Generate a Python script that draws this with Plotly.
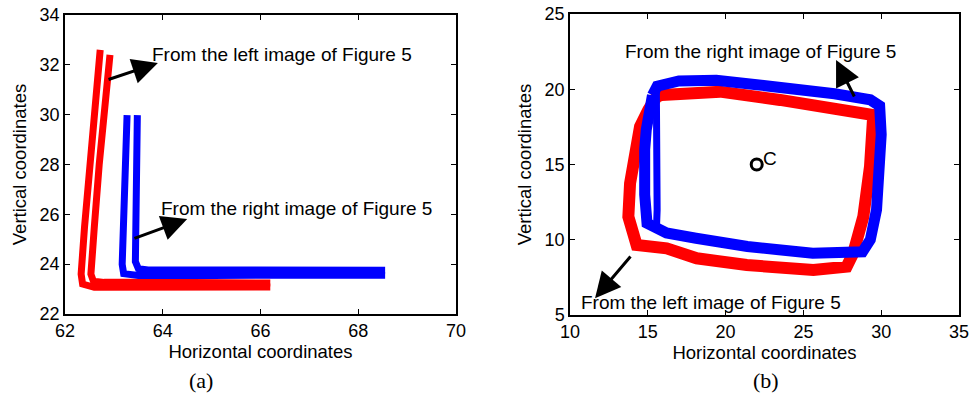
import plotly.graph_objects as go

# ---------------- Panel (a) data ----------------
red_outer_x = [62.72, 62.62, 62.50, 62.40, 62.33, 62.36, 62.60, 63.5, 64.5, 65.5, 66.20]
red_outer_y = [32.60, 30.50, 28.00, 25.50, 23.60, 23.20, 23.07, 23.07, 23.05, 23.05, 23.08]
red_inner_x = [62.92, 62.82, 62.70, 62.60, 62.53, 62.58, 62.80, 64.0, 65.0, 66.20]
red_inner_y = [32.40, 30.50, 28.00, 25.50, 23.60, 23.32, 23.27, 23.27, 23.25, 23.24]
blue_outer_x = [63.27, 63.22, 63.18, 63.17, 63.20, 63.50, 65.0, 67.0, 68.55]
blue_outer_y = [29.98, 27.50, 25.00, 24.00, 23.62, 23.55, 23.55, 23.55, 23.56]
blue_inner_x = [63.48, 63.47, 63.45, 63.44, 63.50, 63.70, 65.0, 67.0, 68.55]
blue_inner_y = [29.98, 27.50, 25.00, 24.10, 23.82, 23.77, 23.77, 23.76, 23.76]

# ---------------- Panel (b) data ----------------
red_loop_x = [15.57, 15.89, 17.07, 19.64, 23.50, 27.78, 29.49, 29.28, 28.85, 28.20, 27.78,
              25.64, 21.36, 18.14, 16.21, 14.28, 13.75, 13.86, 14.18, 14.50, 15.03, 15.57]
red_loop_y = [19.50, 19.62, 19.68, 19.84, 19.29, 18.51, 18.29, 14.86, 11.53, 9.10, 8.21,
              7.99, 8.32, 8.77, 9.43, 9.65, 11.53, 13.75, 15.96, 17.51, 18.62, 19.50]
blue_loop_x = [15.30, 15.60, 17.00, 19.40, 22.00, 24.80, 27.00, 29.30, 29.90, 30.00, 29.90,
               29.70, 29.30, 28.80, 25.60, 21.40, 18.10, 16.20, 14.95, 14.80, 14.80, 14.90, 15.30]
blue_loop_y = [19.60, 20.20, 20.55, 20.60, 20.30, 20.00, 19.70, 19.30, 18.90, 17.00, 15.30,
               12.00, 10.00, 9.20, 9.10, 9.55, 10.10, 10.45, 11.10, 13.00, 16.00, 17.30, 19.60]
blue_inner_line_x = [15.55, 15.62, 15.60, 15.55]
blue_inner_line_y = [19.90, 15.00, 12.00, 10.60]
center_x = [22]
center_y = [15]

RED = "#ff0000"
BLUE = "#0000ff"
FONT = "Liberation Sans, Arial, sans-serif"

fig = go.Figure()

def add_line(x, y, color, width, xa, ya):
    fig.add_trace(go.Scatter(x=x, y=y, mode="lines", line=dict(color=color, width=width),
                             xaxis=xa, yaxis=ya, showlegend=False, hoverinfo="skip"))

add_line(red_outer_x, red_outer_y, RED, 7, "x", "y")
add_line(red_inner_x, red_inner_y, RED, 7, "x", "y")
add_line(blue_outer_x, blue_outer_y, BLUE, 7, "x", "y")
add_line(blue_inner_x, blue_inner_y, BLUE, 7, "x", "y")

add_line(red_loop_x, red_loop_y, RED, 12, "x2", "y2")
add_line(blue_loop_x, blue_loop_y, BLUE, 11, "x2", "y2")
add_line(blue_inner_line_x, blue_inner_line_y, BLUE, 7, "x2", "y2")

fig.add_trace(go.Scatter(x=center_x, y=center_y, mode="markers",
                         marker=dict(symbol="circle-open", size=11, color="black", line=dict(width=3)),
                         xaxis="x2", yaxis="y2", showlegend=False, hoverinfo="skip"))

W, H = 971, 418

def px(v):
    return v / W

def py(v):
    return 1 - v / H

axis_common = dict(showline=True, linecolor="black", linewidth=1.5, mirror="allticks",
                   ticks="inside", ticklen=5, tickwidth=1, tickcolor="black",
                   showgrid=False, zeroline=False, automargin=False,
                   tickfont=dict(family=FONT, size=18, color="black"),
                   title_font=dict(family=FONT, size=18.5, color="black"))

fig.update_layout(
    width=W, height=H,
    margin=dict(l=0, r=0, t=0, b=0, autoexpand=False),
    plot_bgcolor="white", paper_bgcolor="white",
    xaxis=dict(domain=[px(65), px(456)], range=[62, 70], dtick=2, anchor="y",
               title=dict(text="Horizontal coordinates", standoff=4), **axis_common),
    yaxis=dict(domain=[py(314), py(15)], range=[22, 34], dtick=2, anchor="x",
               title=dict(text="Vertical coordinates", standoff=8), **axis_common),
    xaxis2=dict(domain=[px(570), px(959)], range=[10, 35], dtick=5, anchor="y2",
                title=dict(text="Horizontal coordinates", standoff=4), **axis_common),
    yaxis2=dict(domain=[py(315), py(14)], range=[5, 25], dtick=5, anchor="x2",
                title=dict(text="Vertical coordinates", standoff=8), **axis_common),
)

txt_font = dict(family=FONT, size=19, color="black")

def label(text, x, y, xr, yr):
    fig.add_annotation(text=text, x=x, y=y, xref=xr, yref=yr, showarrow=False,
                       xanchor="left", yanchor="middle", font=txt_font)

def arrow(hx, hy, tx, ty, xr, yr):
    fig.add_annotation(text="", x=hx, y=hy, ax=tx, ay=ty, xref=xr, yref=yr,
                       axref=xr, ayref=yr, showarrow=True, arrowhead=2,
                       arrowsize=1.7, arrowwidth=3, arrowcolor="black")

label("From the left image of Figure 5", 63.74, 32.40, "x", "y")
label("From the right image of Figure 5", 63.92, 26.25, "x", "y")
arrow(63.90, 32.07, 62.86, 31.39, "x", "y")
arrow(64.50, 25.81, 63.39, 25.01, "x", "y")

label("From the right image of Figure 5", 13.41, 22.48, "x2", "y2")
label("From the left image of Figure 5", 10.58, 5.86, "x2", "y2")
arrow(27.10, 21.94, 28.32, 19.42, "x2", "y2")
arrow(11.61, 6.11, 13.97, 8.99, "x2", "y2")
fig.add_annotation(text="C", x=22.85, y=15.37, xref="x2", yref="y2", showarrow=False,
                   font=dict(family=FONT, size=19, color="black"))

sub_font = dict(family="Liberation Serif, Times New Roman, serif", size=22, color="black")
fig.add_annotation(text="(a)", x=px(187), y=py(380), xref="paper", yref="paper",
                   yanchor="middle", showarrow=False, font=sub_font)
fig.add_annotation(text="(b)", x=px(781), y=py(380), xref="paper", yref="paper",
                   yanchor="middle", showarrow=False, font=sub_font)

fig.write_html("out.html", config={"displayModeBar": False},
               post_script="document.body.style.margin='0px';")
